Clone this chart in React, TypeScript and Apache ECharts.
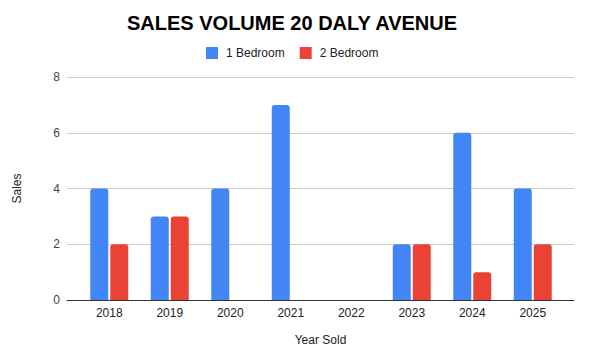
import React, { useEffect, useRef } from "react";
import * as echarts from "echarts";

const years = ["2018", "2019", "2020", "2021", "2022", "2023", "2024", "2025"];
const oneBedroom = [4, 3, 4, 7, 0, 2, 6, 4];
const twoBedroom = [2, 3, 0, 0, 0, 2, 1, 2];
const yTicks = { min: 0, max: 8, interval: 2 };

export default function App() {
  const ref = useRef<HTMLDivElement>(null);
  useEffect(() => {
    if (!ref.current) return;
    const chart = echarts.init(ref.current, null, { renderer: "svg" });
    const font = "Arial, 'Liberation Sans', sans-serif";
    chart.setOption({
      animation: false,
      textStyle: { fontFamily: font },
      title: {
        text: "SALES VOLUME 20 DALY AVENUE",
        left: 122,
        top: 8,
        textStyle: { fontSize: 20, fontWeight: "bold", color: "#000", fontFamily: font },
      },
      legend: {
        top: 42,
        left: 201,
        icon: "rect",
        itemWidth: 12,
        itemHeight: 12,
        itemGap: 15,
        textStyle: { fontSize: 12, color: "#222", fontFamily: font, padding: [0, 0, 0, 3] },
        data: ["1 Bedroom", "2 Bedroom"],
      },
      grid: [
        { left: 67, right: 18, top: 77, bottom: 64 },
        { left: 79, right: 29, top: 77, bottom: 64 },
      ],
      xAxis: [
        {
          gridIndex: 0,
          type: "category",
          data: years,
          axisLine: { show: true, lineStyle: { color: "#333", width: 1 } },
          axisTick: { show: false },
          axisLabel: { show: false },
          splitLine: { show: false },
          name: "Year Sold",
          nameLocation: "middle",
          nameGap: 34,
          nameTextStyle: { fontSize: 12, color: "#222", fontFamily: font },
          z: 5,
        },
        {
          gridIndex: 1,
          type: "category",
          data: years,
          axisLine: { show: false },
          axisTick: { show: false },
          axisLabel: { fontSize: 12, color: "#222", margin: 7, fontFamily: font },
        },
      ],
      yAxis: [
        {
          gridIndex: 0,
          type: "value",
          min: yTicks.min,
          max: yTicks.max,
          interval: yTicks.interval,
          axisLine: { show: false },
          axisTick: { show: false },
          axisLabel: { fontSize: 12, color: "#444", margin: 7, fontFamily: font },
          splitLine: { lineStyle: { color: "#cccccc", width: 1 } },
          name: "Sales",
          nameLocation: "middle",
          nameGap: 44,
          nameRotate: 90,
          nameTextStyle: { fontSize: 12, color: "#222", fontFamily: font },
        },
        {
          gridIndex: 1,
          type: "value",
          min: yTicks.min,
          max: yTicks.max,
          interval: yTicks.interval,
          show: false,
          splitLine: { show: false },
        },
      ],
      series: [
        {
          name: "1 Bedroom",
          type: "bar",
          xAxisIndex: 1,
          yAxisIndex: 1,
          data: oneBedroom,
          barWidth: 18,
          barGap: "11%",
          itemStyle: { color: "#4285F4", borderRadius: [3, 3, 0, 0] },
        },
        {
          name: "2 Bedroom",
          type: "bar",
          xAxisIndex: 1,
          yAxisIndex: 1,
          data: twoBedroom,
          barWidth: 18,
          barGap: "11%",
          itemStyle: { color: "#EA4335", borderRadius: [3, 3, 0, 0] },
        },
      ],
    });
    return () => chart.dispose();
  }, []);
  return <div ref={ref} style={{ width: 592, height: 364, position: "absolute", left: 0, top: 0 }} />;
}
